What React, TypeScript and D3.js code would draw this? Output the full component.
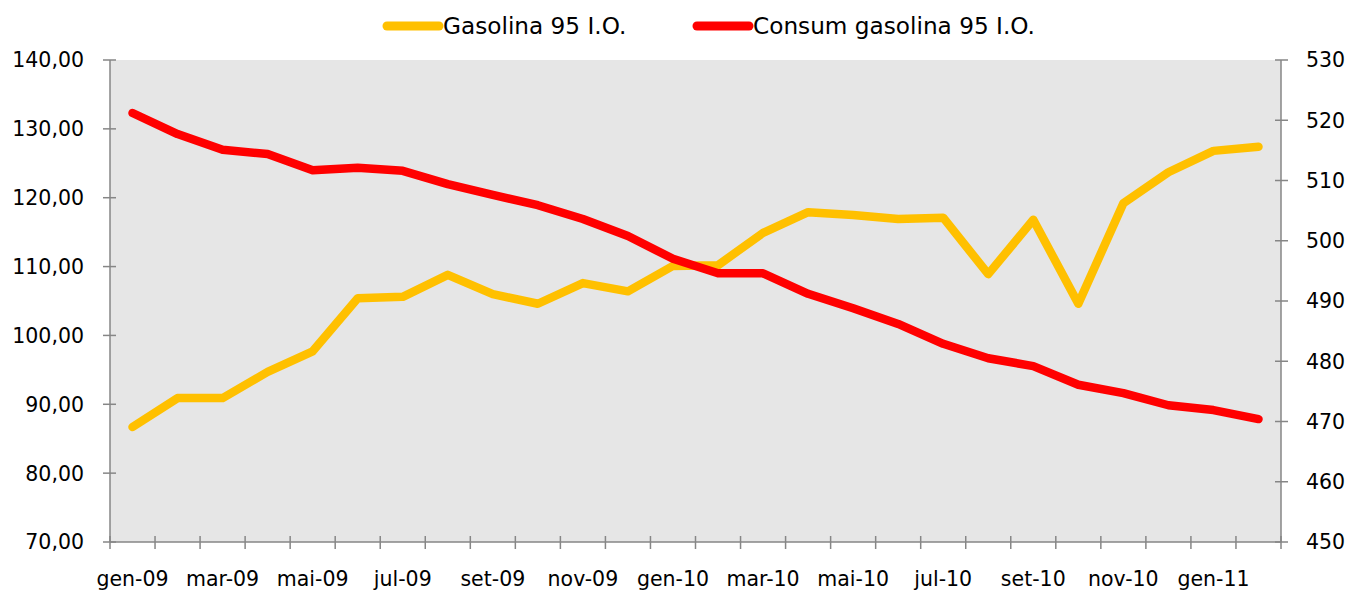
import React, { useRef, useEffect } from "react";
import * as d3 from "d3";

const months = [
  "gen-09", "feb-09", "mar-09", "apr-09", "mai-09", "giu-09", "jul-09", "ago-09",
  "set-09", "ott-09", "nov-09", "dic-09", "gen-10", "feb-10", "mar-10", "apr-10",
  "mai-10", "giu-10", "jul-10", "ago-10", "set-10", "ott-10", "nov-10", "dic-10",
  "gen-11", "feb-11",
];
const gasolina = [
  86.7, 90.9, 90.9, 94.7, 97.7, 105.4, 105.6, 108.8, 106.0, 104.6, 107.6, 106.4,
  110.1, 110.2, 114.9, 117.9, 117.5, 116.9, 117.1, 108.9, 116.8, 104.6, 119.2,
  123.7, 126.8, 127.4,
];
const consum = [
  521.2, 517.7, 515.1, 514.4, 511.7, 512.1, 511.6, 509.4, 507.6, 505.9, 503.6,
  500.8, 497.0, 494.6, 494.6, 491.2, 488.8, 486.2, 482.9, 480.5, 479.2, 476.1,
  474.7, 472.7, 471.9, 470.4,
];
const leftTicks = [70, 80, 90, 100, 110, 120, 130, 140];
const rightTicks = [450, 460, 470, 480, 490, 500, 510, 520, 530];
const seriesNames = ["Gasolina 95 I.O.", "Consum gasolina 95 I.O."];
const colors = ["#FFC000", "#FF0000"];

const W = 1350;
const H = 597;
const FONT = "'DejaVu Sans', sans-serif";
const FS = 20.5;
const LEGEND_FS = 23.2;

export default function App() {
  const svgRef = useRef<SVGSVGElement>(null);

  useEffect(() => {
    if (!svgRef.current) return;
    const svg = d3.select(svgRef.current);
    svg.selectAll("*").remove();

    const left = 110, right = 1281, top = 60, bottom = 542;
    const axisColor = "#868686";

    const x = d3.scaleBand<string>().domain(months).range([left, right]);
    const yL = d3.scaleLinear().domain([70, 140]).range([bottom, top]);
    const yR = d3.scaleLinear().domain([450, 530]).range([bottom, top]);

    // plot background
    svg.append("rect")
      .attr("x", left).attr("y", top)
      .attr("width", right - left).attr("height", bottom - top)
      .attr("fill", "#E6E6E6");

    // left axis
    const gL = svg.append("g");
    gL.append("line").attr("x1", left).attr("x2", left).attr("y1", top).attr("y2", bottom)
      .attr("stroke", axisColor).attr("stroke-width", 1.5);
    leftTicks.forEach((t) => {
      gL.append("line").attr("x1", left - 7).attr("x2", left + 6)
        .attr("y1", yL(t)).attr("y2", yL(t)).attr("stroke", axisColor).attr("stroke-width", 1.5);
      gL.append("text").attr("x", 84).attr("y", yL(t)).attr("dy", "0.36em")
        .attr("text-anchor", "end").attr("font-size", FS).attr("font-family", FONT)
        .attr("fill", "#000").text(d3.format(".2f")(t).replace(".", ","));
    });

    // right axis
    const gR = svg.append("g");
    gR.append("line").attr("x1", right).attr("x2", right).attr("y1", top).attr("y2", bottom)
      .attr("stroke", axisColor).attr("stroke-width", 1.5);
    rightTicks.forEach((t) => {
      gR.append("line").attr("x1", right - 6).attr("x2", right + 7)
        .attr("y1", yR(t)).attr("y2", yR(t)).attr("stroke", axisColor).attr("stroke-width", 1.5);
      gR.append("text").attr("x", right + 25).attr("y", yR(t)).attr("dy", "0.36em")
        .attr("text-anchor", "start").attr("font-size", FS).attr("font-family", FONT)
        .attr("fill", "#000").text(String(t));
    });

    // bottom axis
    const gB = svg.append("g");
    gB.append("line").attr("x1", left).attr("x2", right).attr("y1", bottom).attr("y2", bottom)
      .attr("stroke", axisColor).attr("stroke-width", 1.5);
    months.forEach((m, i) => {
      const xs = x(m)!;
      gB.append("line").attr("x1", xs).attr("x2", xs).attr("y1", bottom - 6).attr("y2", bottom + 7)
        .attr("stroke", axisColor).attr("stroke-width", 1.5);
      if (i % 2 === 0) {
        gB.append("text").attr("x", xs + x.bandwidth() / 2).attr("y", 586)
          .attr("text-anchor", "middle").attr("font-size", FS).attr("font-family", FONT)
          .attr("fill", "#000").text(m);
      }
    });
    gB.append("line").attr("x1", right).attr("x2", right).attr("y1", bottom - 6).attr("y2", bottom + 7)
      .attr("stroke", axisColor).attr("stroke-width", 1.5);

    // lines
    const lineL = d3.line<number>()
      .x((_, i) => x(months[i])! + x.bandwidth() / 2)
      .y((d) => yL(d));
    const lineR = d3.line<number>()
      .x((_, i) => x(months[i])! + x.bandwidth() / 2)
      .y((d) => yR(d));

    svg.append("path").datum(gasolina)
      .attr("fill", "none").attr("stroke", colors[0]).attr("stroke-width", 8.5)
      .attr("stroke-linejoin", "round").attr("stroke-linecap", "round")
      .attr("d", lineL);
    svg.append("path").datum(consum)
      .attr("fill", "none").attr("stroke", colors[1]).attr("stroke-width", 8.5)
      .attr("stroke-linejoin", "round").attr("stroke-linecap", "round")
      .attr("d", lineR);

    // legend
    const legendX = [387, 697];
    seriesNames.forEach((name, i) => {
      const lg = svg.append("g").attr("transform", `translate(${legendX[i]},26)`);
      lg.append("line").attr("x1", 0).attr("x2", 52).attr("y1", 0).attr("y2", 0)
        .attr("stroke", colors[i]).attr("stroke-width", 9).attr("stroke-linecap", "round");
      lg.append("text").attr("x", 56).attr("y", 0).attr("dy", "0.36em")
        .attr("font-size", LEGEND_FS).attr("font-family", FONT).attr("fill", "#000").text(name);
    });
  }, []);

  return (
    <svg
      ref={svgRef}
      width={W}
      height={H}
      style={{ position: "absolute", left: 0, top: 0, background: "#fff" }}
    />
  );
}
